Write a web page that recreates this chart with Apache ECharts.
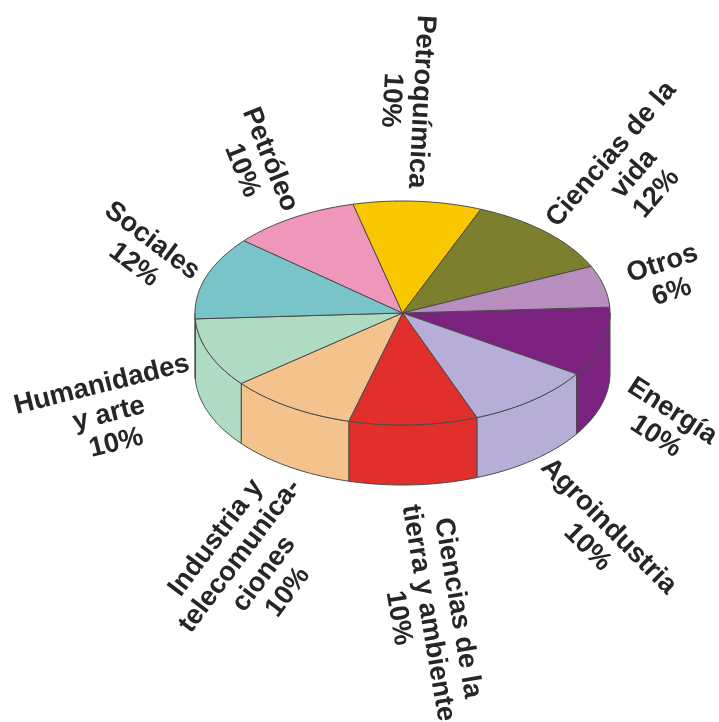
<!DOCTYPE html>
<html><head><meta charset="utf-8">
<style>html,body{margin:0;padding:0;background:#fff}#c{width:719px;height:722px}</style>
<script src="https://cdn.jsdelivr.net/npm/echarts@6/dist/echarts.min.js"></script>
</head><body><div id="c"></div>
<script>
// clockwise from the Otros / Energía boundary
const categories = [
  ['Energía','10%'],
  ['Agroindustria','10%'],
  ['Ciencias de la','tierra y ambiente','10%'],
  ['Industria y','telecomunica-','ciones','10%'],
  ['Humanidades','y arte','10%'],
  ['Sociales','12%'],
  ['Petróleo','10%'],
  ['Petroquímica','10%'],
  ['Ciencias de la','vida','12%'],
  ['Otros','6%']
];
const values = [10,10,10,10,10,12,10,10,12,6];
const colors = ['#7B2280','#B6AED6','#E1302B','#F4C28D','#B0DBC3','#79C4C9','#EF96BB','#F9C700','#7C7F2E','#B88EBE'];
// label block centre x, y, rotation in degrees
const labelPlaces = [
  [664,424,-33],[598,537,-45],[428,613,-80.5],[252,565,53],[109,414,14],
  [143,253,-37],[256,165,-68],[406,101,-93],[634,174,49],[667,278,18]
];
const CX=402.5, CY=313, RX=207.5, RY=112, DEPTH=60, START=-3;
const total = values.reduce((a,b)=>a+b,0);
let acc = START;
const spans = values.map(v=>{const a=acc; acc+=v/total*360; return [a,acc];});
const pt=(deg,dy)=>{const r=deg*Math.PI/180;return [CX+RX*Math.cos(r),CY+RY*Math.sin(r)+(dy||0)];};
const stroke={stroke:'#4a4a4a',lineWidth:1,lineJoin:'round'};

function renderSlice(params, api){
  const i=params.dataIndex, [a0,a1]=spans[i], fill=colors[i], children=[];
  const s0=Math.max(a0,0), s1=Math.min(a1,180);
  if(s1>s0){
    const up=[],down=[];
    for(let d=s0;d<s1;d+=1){up.push(pt(d));down.unshift(pt(d,DEPTH));}
    up.push(pt(s1));down.unshift(pt(s1,DEPTH));
    children.push({type:'polygon',shape:{points:up.concat(down)},style:Object.assign({fill},stroke)});
  }
  const top=[[CX,CY]];
  const sweep=api.value(0)/total*360;
  for(let k=0;k<sweep;k+=1)top.push(pt(a0+k));
  top.push(pt(a0+sweep));
  children.push({type:'polygon',shape:{points:top},style:Object.assign({fill},stroke)});
  return {type:'group',children};
}
function renderLabel(params, api){
  const i=params.dataIndex,[x,y,rot]=labelPlaces[i];
  return {type:'text',x,y,rotation:rot*Math.PI/180,style:{
    text:categories[i].join('\n'),x:0,y:0,align:'center',verticalAlign:'middle',
    font:'bold 27.4px "Liberation Sans", Arial, sans-serif',lineHeight:30,fill:'#262626'}};
}
const data=values.map((v,i)=>({value:v,name:categories[i].slice(0,-1).join(' ')}));
const chart=echarts.init(document.getElementById('c'),null,{renderer:'canvas'});
chart.setOption({animation:false,backgroundColor:'#fff',series:[
  {type:'custom',coordinateSystem:'none',renderItem:renderSlice,data,silent:true},
  {type:'custom',coordinateSystem:'none',renderItem:renderLabel,data,silent:true,z:5}
]});
</script></body></html>
